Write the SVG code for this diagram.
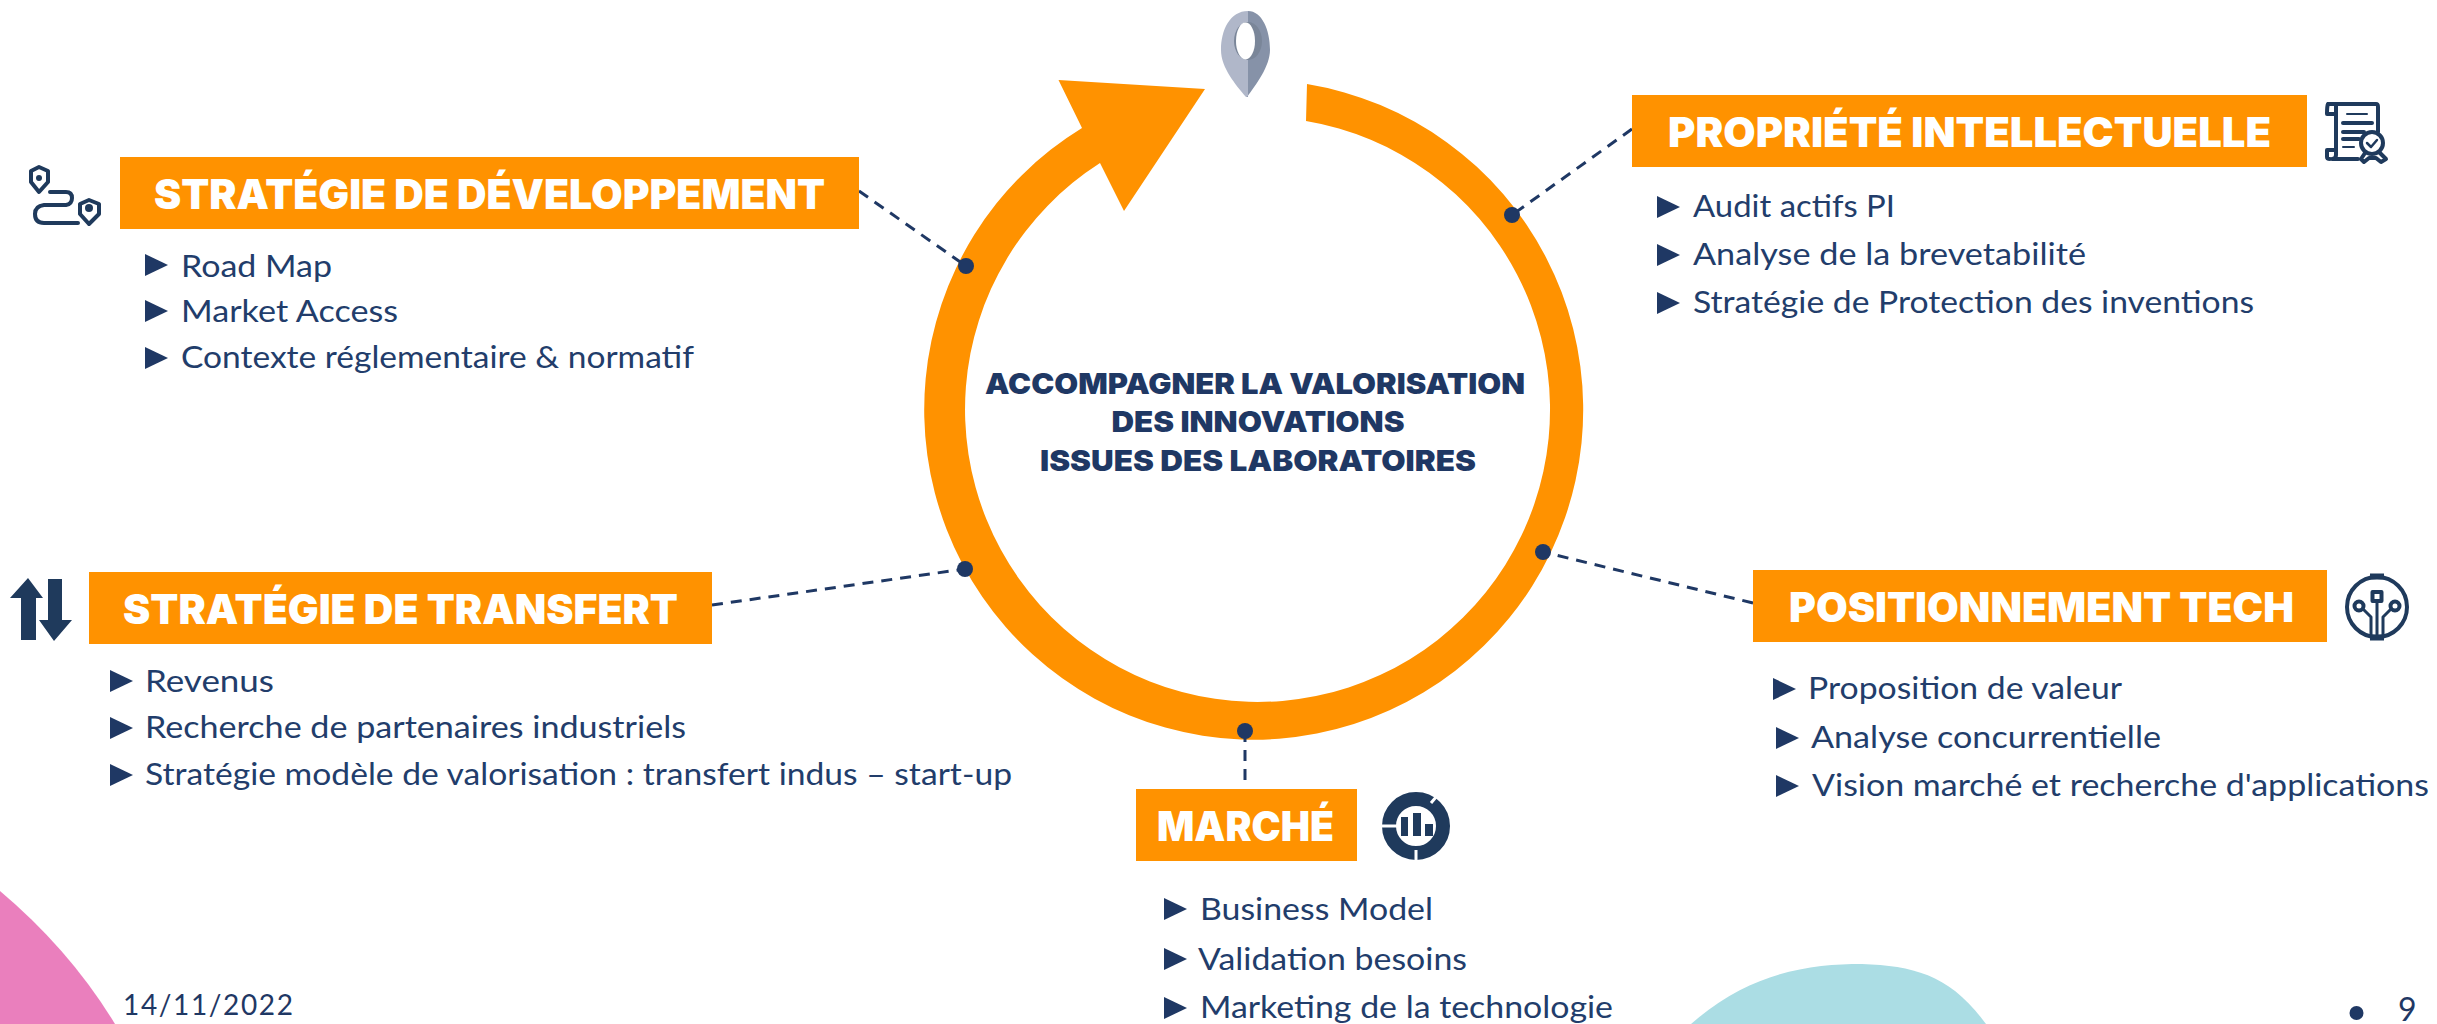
<svg xmlns="http://www.w3.org/2000/svg" width="2437" height="1024" viewBox="0 0 2437 1024">
<style>
.box{fill:#FF9200}
.t{font-family:"Inter","Liberation Sans",sans-serif;font-weight:900;font-size:41px;fill:#fff}
.b{font-family:"Lato","Liberation Sans",sans-serif;font-weight:400;font-size:31px;fill:#223D6B}
.c{font-family:"Inter","Liberation Sans",sans-serif;font-weight:900;font-size:29px;fill:#1F3864;text-anchor:middle}
.f{font-family:"Lato","Liberation Sans",sans-serif;font-size:28px;fill:#1F3864}
.conn{stroke:#1F3864;stroke-width:3;stroke-dasharray:11 8;fill:none}
.dot{fill:#1F3864}
.ic{fill:none;stroke:#1F3A5C;stroke-width:4;stroke-linejoin:round;stroke-linecap:round}
.if{fill:#1F3A5C}
</style>
<defs><polygon id="tri" points="0,-11 23,0 0,11" fill="#1F3864"/></defs>
<rect width="2437" height="1024" fill="#fff"/>
<g id="background">
<path d="M0,891 Q70,950 115,1024 L0,1024Z" fill="#EA7FBD"/>
<path d="M1691,1024 C1750,972 1810,964 1862,964 C1915,966 1950,975 1986,1024Z" fill="#ABDDE4"/>
</g>
<g id="ring"><path d="M1307,84 A329.500,330 0 1 1 1082,128 L1058.500,80 L1205,89 L1124,211 L1100,163 A292.500,292.500 0 1 0 1306,121 Z" fill="#FF9200"/></g>
<g id="pin">
<path d="M1248,11 C1230,11 1221,30 1221,50 C1221,68 1236,85 1246,97 L1248,97Z" fill="#B0B7C9"/>
<path d="M1248,11 C1262,11 1270,30 1270,50 C1270,66 1256,85 1247,97 L1248,97Z" fill="#8692A8"/>
<ellipse cx="1248" cy="41" rx="14" ry="19" fill="#7A8699"/>
<ellipse cx="1245.500" cy="41" rx="9.500" ry="18.500" fill="#fff"/>
</g>
<g id="connectors">
<line class="conn" x1="859" y1="191" x2="966" y2="266"/>
<line class="conn" x1="1632" y1="129" x2="1512" y2="215"/>
<line class="conn" x1="712" y1="605" x2="965" y2="569"/>
<line class="conn" x1="1753" y1="603" x2="1543" y2="552"/>
<line class="conn" x1="1245" y1="731" x2="1245" y2="782"/>
<circle class="dot" cx="966" cy="266" r="8"/>
<circle class="dot" cx="1512" cy="215" r="8"/>
<circle class="dot" cx="965" cy="569" r="8"/>
<circle class="dot" cx="1543" cy="552" r="8"/>
<circle class="dot" cx="1245" cy="731" r="8"/>
</g>
<g id="center">
<text class="c" x="1255" y="394" textLength="540" lengthAdjust="spacingAndGlyphs">ACCOMPAGNER LA VALORISATION</text>
<text class="c" x="1258" y="432" textLength="293" lengthAdjust="spacingAndGlyphs">DES INNOVATIONS</text>
<text class="c" x="1258" y="471" textLength="436" lengthAdjust="spacingAndGlyphs">ISSUES DES LABORATOIRES</text>
</g>
<g id="node-developpement">
<rect class="box" x="120" y="157" width="739" height="72"/>
<text class="t" x="154" y="209" textLength="671" lengthAdjust="spacingAndGlyphs">STRATÉGIE DE DÉVELOPPEMENT</text>
<use href="#tri" x="145" y="265"/><text class="b" x="181" y="277" textLength="151" lengthAdjust="spacingAndGlyphs">Road Map</text>
<use href="#tri" x="145" y="311"/><text class="b" x="181" y="322" textLength="217" lengthAdjust="spacingAndGlyphs">Market Access</text>
<use href="#tri" x="145" y="358"/><text class="b" x="181" y="368" textLength="513" lengthAdjust="spacingAndGlyphs">Contexte réglementaire &amp; normatif</text>
<g id="icon-route">
<path class="ic" d="M39,167 L48,171 L48,182 L39,192 L31,182 L31,171Z"/><circle class="if" cx="39" cy="178" r="3"/>
<path class="ic" d="M89,200 L99,204 L99,214 L89,224 L80,214 L80,204Z"/><circle class="if" cx="89" cy="208" r="4"/>
<path class="ic" d="M50,192 H66 Q72,192 72,198 Q72,204 66,205 H44 Q35,206 35,214 Q35,223 44,223 H78"/>
</g>
</g>
<g id="node-propriete">
<rect class="box" x="1632" y="95" width="675" height="72"/>
<text class="t" x="1668" y="147" textLength="603" lengthAdjust="spacingAndGlyphs">PROPRIÉTÉ INTELLECTUELLE</text>
<use href="#tri" x="1657" y="207"/><text class="b" x="1693" y="217" textLength="202" lengthAdjust="spacingAndGlyphs">Audit actifs PI</text>
<use href="#tri" x="1657" y="255"/><text class="b" x="1693" y="265" textLength="393" lengthAdjust="spacingAndGlyphs">Analyse de la brevetabilité</text>
<use href="#tri" x="1657" y="303"/><text class="b" x="1693" y="313" textLength="561" lengthAdjust="spacingAndGlyphs">Stratégie de Protection des inventions</text>
<g id="icon-certificate">
<path class="ic" d="M2328,104 H2376 Q2378,104 2378,107 V132 M2336,106 V155 Q2336,159 2332,159 H2358 M2328,104 Q2327,106 2327,114 H2336 M2327,150 H2336 M2327,150 V157 Q2327,159 2330,159"/>
<path class="ic" style="stroke-width:2" d="M2347,114 H2367"/>
<path class="ic" d="M2343,123 H2372 M2343,132 H2364 M2343,139 H2359"/>
<path class="ic" style="stroke-width:2" d="M2343,147 H2354"/>
<circle class="ic" cx="2372" cy="143" r="11"/>
<path class="ic" style="stroke-width:2.500" d="M2367,143 L2371,147 L2377,140"/>
<path class="ic" d="M2365,153 L2361,159 L2364,162 L2369,158 H2376 L2381,162 L2386,159 L2380,153"/>
</g>
</g>
<g id="node-transfert">
<rect class="box" x="89" y="572" width="623" height="72"/>
<text class="t" x="123" y="624" textLength="555" lengthAdjust="spacingAndGlyphs">STRATÉGIE DE TRANSFERT</text>
<use href="#tri" x="110" y="681"/><text class="b" x="145" y="692" textLength="129" lengthAdjust="spacingAndGlyphs">Revenus</text>
<use href="#tri" x="110" y="728"/><text class="b" x="145" y="738" textLength="541" lengthAdjust="spacingAndGlyphs">Recherche de partenaires industriels</text>
<use href="#tri" x="110" y="775"/><text class="b" x="145" y="785" textLength="867" lengthAdjust="spacingAndGlyphs">Stratégie modèle de valorisation : transfert indus – start-up</text>
<path id="icon-arrows" class="if" d="M28,578 L43,598 H36 V640 H21 V598 H10Z M48,579 H62 V620 H72 L54,641 L39,620 H48Z"/>
</g>
<g id="node-positionnement">
<rect class="box" x="1753" y="570" width="574" height="72"/>
<text class="t" x="1789" y="622" textLength="505" lengthAdjust="spacingAndGlyphs">POSITIONNEMENT TECH</text>
<use href="#tri" x="1773" y="689"/><text class="b" x="1808" y="699" textLength="314" lengthAdjust="spacingAndGlyphs">Proposition de valeur</text>
<use href="#tri" x="1776" y="738"/><text class="b" x="1811" y="748" textLength="350" lengthAdjust="spacingAndGlyphs">Analyse concurrentielle</text>
<use href="#tri" x="1776" y="786"/><text class="b" x="1812" y="796" textLength="617" lengthAdjust="spacingAndGlyphs">Vision marché et recherche d'applications</text>
<g id="icon-tech">
<circle class="ic" cx="2377" cy="607" r="30"/>
<path class="ic" style="stroke-width:6;stroke-linecap:butt" d="M2370,576.500 H2384 M2370,637.500 H2384"/>
<rect class="ic" x="2372.500" y="592" width="9" height="9"/>
<circle class="ic" cx="2359" cy="606" r="4.500"/>
<circle class="ic" cx="2395" cy="606" r="4.500"/>
<path class="ic" style="stroke-width:3" d="M2377,601 V636 M2363,609 L2371,617 V635 M2391,609 L2383,617 V635"/>
</g>
</g>
<g id="node-marche">
<rect class="box" x="1136" y="789" width="221" height="72"/>
<text class="t" x="1157" y="841" textLength="177" lengthAdjust="spacingAndGlyphs">MARCHÉ</text>
<use href="#tri" x="1164" y="909"/><text class="b" x="1200" y="920" textLength="233" lengthAdjust="spacingAndGlyphs">Business Model</text>
<use href="#tri" x="1164" y="959"/><text class="b" x="1198" y="970" textLength="269" lengthAdjust="spacingAndGlyphs">Validation besoins</text>
<use href="#tri" x="1164" y="1008"/><text class="b" x="1200" y="1018" textLength="413" lengthAdjust="spacingAndGlyphs">Marketing de la technologie</text>
<g id="icon-market">
<circle cx="1416" cy="826" r="27" fill="none" stroke="#1F3A5C" stroke-width="14"/>
<path d="M1380,826 H1400 M1416,850 V864 M1431,803 L1442,790" stroke="#fff" stroke-width="3" fill="none"/>
<path class="if" d="M1401,817 H1408 V836 H1401Z M1413,813 H1421 V836 H1413Z M1425,824 H1433 V836 H1425Z"/>
</g>
</g>
<g id="footer">
<text class="f" x="123" y="1015" textLength="170">14/11/2022</text>
<circle class="dot" cx="2356.500" cy="1013" r="7"/>
<text class="f" x="2398" y="1021" style="font-size:32px">9</text>
</g>
</svg>
